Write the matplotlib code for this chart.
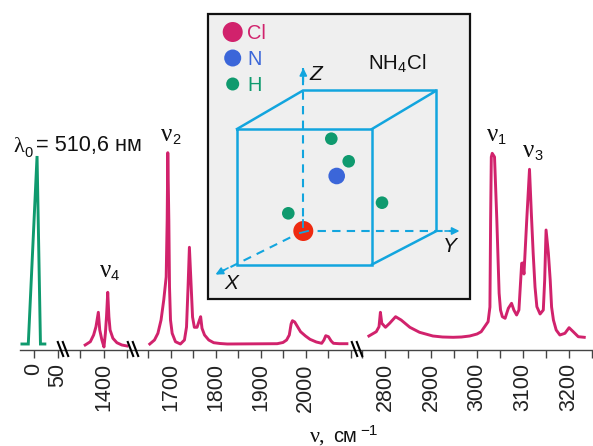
from matplotlib import pyplot as plt
from matplotlib.patches import Circle, Rectangle
import numpy as np

plt.rcParams["font.family"] = ["Liberation Sans", "DejaVu Sans"]
plt.rcParams["mathtext.fontset"] = "custom"
plt.rcParams["mathtext.rm"] = "Liberation Sans"
plt.rcParams["mathtext.default"] = "regular"

PINK = "#d1226c"
GREEN = "#0f9a6e"
BLUE = "#3b66d9"
CYAN = "#12a5de"
RED = "#ee2a10"
INK = "#111111"

# laser line
laser_x = [-24, -11, 7, 14, 23]
laser_y = [6, 6, 194, 6, 6]

# nu4 region
nu4_x = [1361, 1372, 1379, 1384, 1389, 1392, 1396.6, 1401, 1404, 1406.4, 1409, 1411.5, 1414,
         1420, 1428.5, 1439, 1451]
nu4_y = [5, 8.3, 15, 23.3, 37.7, 20, 10, 3, 16.7, 33.3, 57.7, 33.3, 20, 11.7, 7.3, 5, 4]

# nu2 region
nu2_x = [1654, 1664.4, 1672, 1679, 1685, 1690.4, 1692.6, 1694, 1696.3, 1697.8, 1700, 1703.7, 1711,
         1722, 1731, 1735.6, 1739, 1742, 1746, 1749, 1753, 1759, 1764.4, 1767, 1770, 1775.6,
         1785, 1796, 1810, 1826, 1937, 1950, 1958, 1964, 1968, 1971, 1976, 1989, 2000, 2010,
         2024, 2036, 2041, 2045, 2051, 2057, 2062, 2075, 2092]
nu2_y = [6, 10, 16.7, 30, 50, 73, 130, 197.3, 130, 63, 30, 16.7, 8.3,
         6, 10, 23, 63, 102.7, 63, 33, 22.7, 22.7, 30, 33.3, 21.7, 15,
         10, 7.3, 6.5, 6, 6.3, 7.5, 10, 15, 26, 29.3, 28, 18.3, 14, 10.7,
         8, 6.7, 10, 14.3, 13.3, 9, 6.7, 6.3, 6.3]

# nu1 / nu3 region
nu1_x = [2765, 2781, 2787, 2790, 2793, 2801, 2810, 2823, 2835, 2854, 2875, 2904, 2925, 2948, 2966,
         2984, 3000, 3009, 3024, 3028, 3029.5, 3031, 3033, 3038, 3043, 3048, 3051, 3055, 3061,
         3068, 3075, 3080, 3086, 3091, 3097, 3099, 3102, 3108, 3114, 3118, 3122, 3126, 3130,
         3137, 3144, 3147, 3150, 3155, 3159, 3162, 3166, 3172, 3180, 3191, 3200, 3209, 3220, 3233]
nu1_y = [14, 18.3, 23.3, 37.7, 26.7, 22.7, 26.7, 33.3, 30, 22.7, 17.7, 14, 13, 12.7, 13,
         14, 16, 18.3, 28.3, 43, 130, 193, 196.7, 193, 130, 56.7, 40, 33.3, 31.7,
         41.7, 46.7, 40, 35, 40, 86.7, 87, 76, 130, 180.7, 136.7, 96.7, 63, 43.3,
         36, 40, 70, 120, 97, 70, 43, 30, 20, 15, 16.7, 22.3, 18.3, 13.3, 12.7]

tick_pos = [0, 50, 1350, 1400, 1450, 1650, 1700, 1750, 1800, 1850, 1900, 1950, 2000, 2050,
            2100, 2750, 2800, 2850, 2900, 2950, 3000, 3050, 3100, 3150, 3200, 3250]
tick_txt = ["0", "50", "", "1400", "", "", "1700", "", "1800", "", "1900", "", "2000", "",
            "", "", "2800", "", "2900", "", "3000", "", "3100", "", "3200", ""]

# broken axis: wavenumber -> pixel
knot_wn = [-28, 50, 1350, 1450, 1650, 2100, 2750, 3252]
knot_px = [20, 58, 80, 127, 148, 350.5, 362, 593]
breaks_px = [63, 133, 357]

# inset atoms
legend_names = ["Cl", "N", "H"]
legend_colors = [PINK, BLUE, GREEN]
legend_y = [32, 58, 84]
legend_r = [10, 8.5, 6.5]
h_atoms = [(331.3, 138.7), (348.7, 161.3), (382, 202.7), (288.3, 213.3)]
n_atom = (336.7, 176)
cl_atom = (303.3, 231)

fig = plt.figure(figsize=(5.93, 4.46), dpi=100)

ax = fig.add_axes([20 / 593, 96 / 446, 573 / 593, 350 / 446])
ax.set_xscale("function", functions=(lambda v: np.interp(v, knot_wn, knot_px),
                                     lambda p: np.interp(p, knot_px, knot_wn)))
ax.plot(laser_x, laser_y, color=GREEN, lw=2.1, solid_joinstyle="miter")
for xs, ys in [(nu4_x, nu4_y), (nu2_x, nu2_y), (nu1_x, nu1_y)]:
    ax.plot(xs, ys, color=PINK, lw=2.1, solid_joinstyle="round")
ax.set_xlim(-28, 3252)
ax.set_ylim(0, 350)
ax.set_xticks(tick_pos)
ax.set_xticklabels(tick_txt, rotation=90, fontsize=15.5, color="#222222")
ax.set_yticks([])
ax.tick_params(axis="x", length=5.5, width=1, color="#444444", pad=4)
for s in ["top", "left", "right"]:
    ax.spines[s].set_visible(False)
ax.spines["bottom"].set_color("#444444")
ax.spines["bottom"].set_linewidth(1)
ax.patch.set_visible(False)

# overlay in image pixels for the labels and the inset
ov = fig.add_axes([0, 0, 1, 1])
ov.set_xlim(0, 593)
ov.set_ylim(446, 0)
ov.axis("off")

for b in breaks_px:
    for d in (-2.5, 2.5):
        ov.plot([b + d - 2.7, b + d + 2.7], [342, 356], color="black", lw=1.5, zorder=4)


def nu_label(x, y, sub):
    ov.text(x, y, "ν", fontsize=18, family="Liberation Serif", color=INK, va="baseline")
    ov.text(x + 11, y + 3, sub, fontsize=10.5, color=INK, va="baseline")


nu_label(161, 141, "2")
nu_label(100, 277, "4")
nu_label(487, 141, "1")
nu_label(523, 157, "3")

ov.text(13, 152, "λ", fontsize=16, family="Liberation Serif", color=INK, va="baseline")
ov.text(24, 157, "0", fontsize=10.5, color=INK, va="baseline")
ov.text(36, 151, "= 510,6 нм", fontsize=15.7, color=INK, va="baseline")

ov.text(310, 442, "ν,", fontsize=16, family="Liberation Serif", color=INK, va="baseline")
ov.text(333, 442, "см", fontsize=14.4, color=INK, va="baseline")
ov.text(360, 435, "−1", fontsize=11, color=INK, va="baseline")

# inset
ov.add_patch(Rectangle((207.5, 13.5), 262, 285.5, fc="#efefef", ec=INK, lw=1.6, zorder=1))

cube_front = [(237, 129), (372, 129), (372, 264.5), (237, 264.5), (237, 129)]
cube_top = [(237, 129), (303, 90.5), (436.5, 90.5), (372, 129)]
cube_side = [(436.5, 90.5), (436.5, 231), (372, 264.5)]
for pts in (cube_front, cube_top, cube_side):
    ov.plot(*zip(*pts), color=CYAN, lw=1.8, zorder=2, solid_joinstyle="miter")

# axis tip, and where its arrow head starts
axis_tips = [(303.3, 68), (459.5, 231), (215.5, 274.5)]
axis_heads = [(303.3, 82), (445, 231), (228, 268)]
for tip, head in zip(axis_tips, axis_heads):
    ov.plot([cl_atom[0], tip[0]], [cl_atom[1], tip[1]], color=CYAN, lw=1.5, ls=(0, (4, 3)), zorder=2)
    ov.annotate("", xy=tip, xytext=head,
                arrowprops=dict(arrowstyle="-|>", color=CYAN, lw=1.2, mutation_scale=11, shrinkA=0, shrinkB=0),
                zorder=3)

ov.add_patch(Circle(cl_atom, 10, fc=RED, ec="none", zorder=3))
ov.plot([303.3, 303.3], [220, 227], color=CYAN, lw=1.3, zorder=4)
ov.plot([300, 308], [233, 231], color=CYAN, lw=1.3, zorder=4)
ov.add_patch(Circle(n_atom, 8.3, fc=BLUE, ec="none", zorder=3))
for p in h_atoms:
    ov.add_patch(Circle(p, 6.3, fc=GREEN, ec="none", zorder=3))

for name, c, y, r in zip(legend_names, legend_colors, legend_y, legend_r):
    ov.add_patch(Circle((232.7, y), r, fc=c, ec="none", zorder=3))
    ov.text(247, y + 7, name, fontsize=14.4, color=c, va="baseline", zorder=3)

ov.text(368, 70, r"$NH_4Cl$", fontsize=14.8, color=INK, va="baseline", zorder=3)
ov.text(309, 80, "Z", fontsize=15, style="italic", color=INK, va="baseline", zorder=3)
ov.text(443, 252, "Y", fontsize=15, style="italic", color=INK, va="baseline", zorder=3)
ov.text(224, 289, "X", fontsize=15, style="italic", color=INK, va="baseline", zorder=3)

fig.savefig("out.png", dpi=100)
